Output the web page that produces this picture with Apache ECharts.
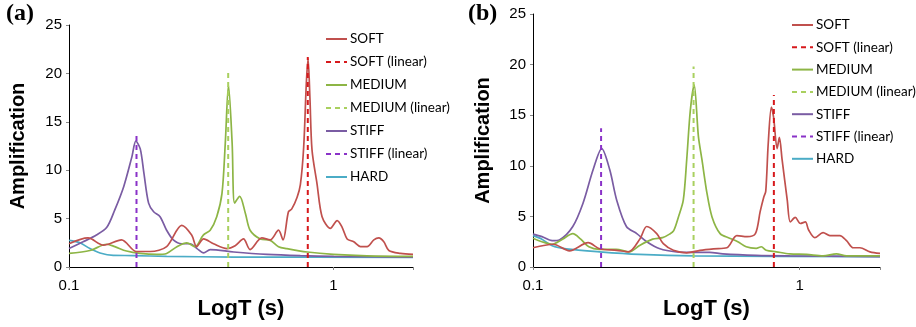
<!DOCTYPE html>
<html>
<head>
<meta charset="utf-8">
<script src="https://cdn.jsdelivr.net/npm/echarts@6.0.0/dist/echarts.min.js"></script>
<style>
  html, body { margin: 0; padding: 0; background: #fff; }
  #chart { width: 916px; height: 327px; }
</style>
</head>
<body>
<div id="chart"></div>
<script>
// [period T (s), amplification]
var softA = [[0.100, 2.4], [0.118, 3.0], [0.135, 2.25], [0.158, 2.8], [0.180, 1.6], [0.203, 1.6], [0.234, 2.1],
  [0.267, 4.3], [0.291, 3.3], [0.304, 2.1], [0.323, 2.9], [0.352, 2.4], [0.396, 1.9], [0.425, 2.2], [0.457, 2.9],
  [0.484, 1.8], [0.536, 3.0], [0.577, 2.8], [0.620, 3.8], [0.645, 2.8], [0.676, 5.7], [0.696, 6.0], [0.729, 7.2],
  [0.750, 8.5], [0.772, 12.4], [0.790, 19.0], [0.802, 21.5], [0.815, 17.5], [0.830, 12.1], [0.867, 8.6],
  [0.906, 5.2], [0.974, 4.0], [1.033, 4.8], [1.079, 4.1], [1.127, 2.9], [1.194, 2.6], [1.266, 2.1], [1.341, 2.1],
  [1.422, 2.8], [1.485, 3.0], [1.551, 2.6], [1.621, 1.7], [1.794, 1.4], [2.0, 1.3]];
var mediumA = [[0.100, 1.4], [0.120, 1.7], [0.139, 2.35], [0.149, 2.1], [0.165, 1.65], [0.186, 1.4], [0.215, 1.3],
  [0.234, 1.4], [0.256, 2.1], [0.279, 2.5], [0.300, 2.1], [0.322, 3.3], [0.342, 3.8], [0.362, 5.2], [0.379, 7.6],
  [0.390, 12.8], [0.401, 18.8], [0.414, 12.8], [0.423, 6.6], [0.442, 7.3], [0.465, 5.5], [0.484, 3.8],
  [0.529, 2.9], [0.577, 2.75], [0.620, 2.1], [0.667, 1.9], [0.796, 1.55], [1.000, 1.3], [1.341, 1.15], [2.0, 1.1]];
var stiffA = [[0.100, 1.9], [0.113, 2.6], [0.127, 3.3], [0.139, 4.1], [0.149, 5.9], [0.161, 8.3], [0.173, 11.4],
  [0.179, 13.0], [0.186, 12.2], [0.192, 9.7], [0.200, 6.6], [0.209, 5.7], [0.221, 5.2], [0.234, 3.8],
  [0.248, 2.8], [0.267, 2.4], [0.287, 2.4], [0.305, 1.9], [0.323, 1.45], [0.342, 1.8], [0.420, 1.55],
  [0.561, 1.3], [0.750, 1.17], [1.003, 1.1], [2.0, 1.03]];
var hardA = [[0.100, 2.75], [0.110, 2.5], [0.120, 1.9], [0.131, 1.45], [0.147, 1.2], [0.175, 1.18],
  [0.234, 1.1], [0.420, 1.03], [2.0, 1.0]];
var softLinA = [[0.8, 0], [0.8, 21.7]];
var mediumLinA = [[0.4, 0], [0.4, 20.1]];
var stiffLinA = [[0.18, 0], [0.18, 13.8]];

var softB = [[0.100, 1.9], [0.119, 2.25], [0.137, 1.6], [0.161, 2.4], [0.178, 1.8], [0.206, 1.65], [0.228, 1.5],
  [0.252, 2.8], [0.267, 4.0], [0.291, 3.3], [0.308, 2.3], [0.336, 1.65], [0.377, 1.4], [0.423, 1.65],
  [0.475, 1.8], [0.533, 1.9], [0.581, 3.1], [0.635, 3.0], [0.682, 3.3], [0.711, 5.5], [0.733, 6.9],
  [0.746, 7.5], [0.762, 12.2], [0.783, 15.8], [0.798, 14.8], [0.823, 11.7], [0.839, 12.8], [0.859, 10.6],
  [0.898, 6.6], [0.922, 4.45], [0.962, 4.9], [1.006, 4.3], [1.05, 4.45], [1.08, 3.65], [1.139, 2.9],
  [1.224, 3.4], [1.297, 3.1], [1.414, 3.1], [1.498, 2.6], [1.587, 1.9], [1.681, 1.9], [1.834, 1.5], [2.0, 1.35]];
var mediumB = [[0.100, 2.85], [0.108, 2.5], [0.118, 2.25], [0.129, 2.75], [0.141, 3.3], [0.151, 2.75],
  [0.162, 2.0], [0.177, 1.75], [0.205, 1.75], [0.230, 1.5], [0.250, 2.1], [0.281, 2.75], [0.306, 2.9],
  [0.325, 3.25], [0.337, 3.6], [0.351, 4.95], [0.366, 6.6], [0.377, 10.6], [0.389, 15.5], [0.402, 18.0],
  [0.417, 12.9], [0.430, 10.6], [0.449, 7.3], [0.469, 4.95], [0.503, 3.3], [0.546, 2.85], [0.586, 2.5],
  [0.630, 2.0], [0.687, 1.85], [0.718, 2.0], [0.749, 1.65], [0.817, 1.5], [0.917, 1.3], [1.060, 1.25],
  [1.224, 1.1], [1.373, 1.3], [1.498, 1.1], [2.0, 1.1]];
var stiffB = [[0.100, 3.25], [0.108, 3.0], [0.118, 2.6], [0.126, 2.7], [0.141, 4.0], [0.154, 6.3], [0.168, 9.6],
  [0.181, 11.7], [0.194, 9.6], [0.206, 6.6], [0.224, 4.0], [0.245, 3.3], [0.267, 2.5], [0.299, 1.8],
  [0.346, 1.5], [0.400, 1.45], [0.459, 1.45], [0.515, 1.3], [0.687, 1.15], [0.917, 1.1], [2.0, 1.03]];
var hardB = [[0.100, 3.1], [0.108, 2.75], [0.118, 2.1], [0.133, 1.8], [0.178, 1.5], [0.250, 1.25], [0.400, 1.1],
  [2.0, 1.02]];
var softLinB = [[0.8, 0], [0.8, 17.0]];
var mediumLinB = [[0.4, 0], [0.4, 19.8]];
var stiffLinB = [[0.18, 0], [0.18, 13.7]];

var legendNames = ['SOFT', 'SOFT (linear)', 'MEDIUM', 'MEDIUM (linear)', 'STIFF', 'STIFF (linear)', 'HARD'];
var colors = {
  'SOFT': '#c0504d', 'SOFT (linear)': '#d7191c',
  'MEDIUM': '#8db545', 'MEDIUM (linear)': '#a9d05f',
  'STIFF': '#7a5ca3', 'STIFF (linear)': '#8a32c8',
  'HARD': '#4bacc6'
};

function line (name, data, idx, dashed) {
  return {
    name: name,
    type: 'line',
    xAxisIndex: idx,
    yAxisIndex: idx,
    data: data,
    symbol: 'none',
    smooth: dashed ? false : 0.3,
    color: colors[name],
    lineStyle: dashed ? {width: 2, type: [5, 4], color: colors[name]} : {width: 1.7, color: colors[name]},
    z: dashed ? 3 : 2
  }
}

function xAx (idx) {
  return {
    type: 'log', logBase: 10, gridIndex: idx, min: 0.1, max: 2,
    name: 'LogT (s)', nameLocation: 'middle', nameGap: 31,
    nameTextStyle: {fontFamily: 'Liberation Sans', fontWeight: 'bold', fontSize: 22, color: '#000'},
    axisLine: {lineStyle: {color: '#000', width: 1}},
    axisTick: {length: 3, lineStyle: {color: '#888'}},
    axisLabel: {
      fontFamily: 'Liberation Sans', fontSize: 15, color: '#000', margin: 11,
      formatter: function (v) { return (Math.abs(v - 0.1) < 1e-6 || Math.abs(v - 1) < 1e-6) ? String(v) : '' }
    },
    splitLine: {show: false},
    minorTick: {show: false}
  }
}

function yAx (idx, gap) {
  return {
    type: 'value', gridIndex: idx, min: 0, max: 25, interval: 5,
    name: 'Amplification', nameLocation: 'middle', nameGap: gap, nameRotate: 90,
    nameTextStyle: {fontFamily: 'Liberation Sans', fontWeight: 'bold', fontSize: 20, color: '#000'},
    axisLine: {show: true, lineStyle: {color: '#000', width: 1}},
    axisTick: {show: true, length: 3, lineStyle: {color: '#888'}},
    axisLabel: {fontFamily: 'Liberation Sans', fontSize: 15, color: '#000', margin: 7},
    splitLine: {show: false}
  }
}

function legend (left, top, gap) {
  return {
    orient: 'vertical', left: left, top: top, itemGap: gap,
    itemWidth: 21, itemHeight: 14, padding: 0,
    itemStyle: {opacity: 0},
    data: legendNames,
    textStyle: {fontFamily: 'Lato', fontSize: 13.5, color: '#000', padding: [0, 0, 0, -2]}
  }
}

var option = {
  animation: false,
  backgroundColor: '#fff',
  grid: [
    {left: 69, top: 25, width: 344, height: 242},
    {left: 533, top: 14, width: 347, height: 253}
  ],
  xAxis: [xAx(0), xAx(1)],
  yAxis: [yAx(0, 41), yAx(1, 40)],
  legend: [legend(325, 32, 9), legend(791, 18, 8.3)],
  graphic: [
    {type: 'text', left: 6, top: 2, style: {text: '(a)', font: 'bold 24px "Liberation Serif"', fill: '#000'}},
    {type: 'text', left: 468, top: 2, style: {text: '(b)', font: 'bold 24px "Liberation Serif"', fill: '#000'}}
  ],
  series: [
    line('HARD', hardA, 0), line('STIFF', stiffA, 0), line('MEDIUM', mediumA, 0), line('SOFT', softA, 0),
    line('STIFF (linear)', stiffLinA, 0, true), line('MEDIUM (linear)', mediumLinA, 0, true),
    line('SOFT (linear)', softLinA, 0, true),
    line('HARD', hardB, 1), line('STIFF', stiffB, 1), line('MEDIUM', mediumB, 1), line('SOFT', softB, 1),
    line('STIFF (linear)', stiffLinB, 1, true), line('MEDIUM (linear)', mediumLinB, 1, true),
    line('SOFT (linear)', softLinB, 1, true)
  ]
}

var chart = echarts.init(document.getElementById('chart'))
chart.setOption(option)
</script>
</body>
</html>
